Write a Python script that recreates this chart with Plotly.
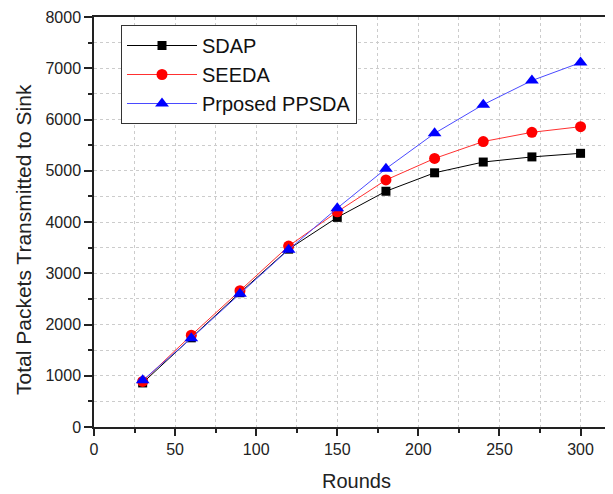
import plotly.graph_objects as go

rounds = [30, 60, 90, 120, 150, 180, 210, 240, 270, 300]
sdap = [860, 1740, 2620, 3470, 4090, 4600, 4960, 5170, 5270, 5340]
seeda = [890, 1790, 2660, 3530, 4200, 4820, 5240, 5570, 5750, 5860]
ppsda = [910, 1730, 2600, 3460, 4270, 5040, 5730, 6290, 6760, 7110]

x_ticks = [0, 50, 100, 150, 200, 250, 300]
y_ticks = [0, 1000, 2000, 3000, 4000, 5000, 6000, 7000, 8000]

font = "Liberation Sans, Arial, sans-serif"

# page has an 8px body margin; size the figure so the plot lands where the reference has it
W, H = 605, 486
L, T, B = 86, 9, 67
plot_w = W - L
plot_h = H - T - B

fig = go.Figure()
fig.add_trace(go.Scatter(x=rounds, y=sdap, name="SDAP", mode="lines+markers",
                         line=dict(color="black", width=1),
                         marker=dict(symbol="square", size=9, color="black")))
fig.add_trace(go.Scatter(x=rounds, y=seeda, name="SEEDA", mode="lines+markers",
                         line=dict(color="#ff3030", width=1),
                         marker=dict(symbol="circle", size=11, color="red")))
fig.add_trace(go.Scatter(x=rounds, y=ppsda, name="Prposed PPSDA", mode="lines+markers",
                         line=dict(color="#4a4aff", width=1),
                         marker=dict(symbol="triangle-up", size=12, color="blue")))

fig.update_layout(
    width=W, height=H,
    margin=dict(l=L, r=0, t=T, b=B),
    paper_bgcolor="white", plot_bgcolor="white",
    font=dict(family=font, size=16, color="#222"),
    showlegend=True,
    legend=dict(x=(121 - 94) / plot_w, y=1 - 8 / plot_h, xanchor="left", yanchor="top",
                bgcolor="white", bordercolor="#333", borderwidth=1,
                font=dict(size=20, color="#111"), tracegroupgap=0,
                itemwidth=70),
    xaxis=dict(range=[0, 320], tickvals=x_ticks, ticks="outside", ticklen=7,
               tickwidth=1.5, tickcolor="#222", showline=True, linecolor="#222",
               linewidth=1.5, mirror=True, showgrid=False, zeroline=False,
               automargin=False,
               minor=dict(dtick=25, tick0=0, ticks="outside", ticklen=4,
                          tickcolor="#222", showgrid=True, gridcolor="#cccccc",
                          griddash="dot", gridwidth=1)),
    yaxis=dict(range=[0, 8000], tickvals=y_ticks, ticks="outside", ticklen=8,
               tickwidth=1.5, tickcolor="#222", showline=True, linecolor="#222",
               linewidth=1.5, showgrid=False, zeroline=False,
               automargin=False,
               minor=dict(dtick=500, tick0=0, ticks="outside", ticklen=4,
                          tickcolor="#222", showgrid=True, gridcolor="#cccccc",
                          griddash="dot", gridwidth=1)),
    annotations=[
        dict(text="Rounds", x=(356 - 94) / plot_w, y=-(481 - 427) / plot_h,
             xref="paper", yref="paper", showarrow=False,
             font=dict(size=20, color="#222"), xanchor="center", yanchor="middle"),
        dict(text="Total Packets Transmitted to Sink", x=-(94 - 23) / plot_w,
             y=(427 - 240) / plot_h,
             xref="paper", yref="paper", showarrow=False, textangle=-90,
             font=dict(size=21, color="#222"), xanchor="center", yanchor="middle"),
    ],
)

fig.write_html("out.html")
